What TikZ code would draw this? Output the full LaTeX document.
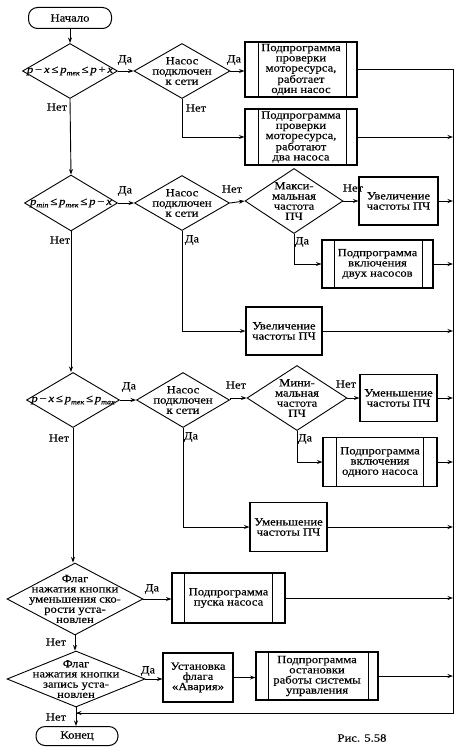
\documentclass[tikz,border=0pt]{standalone}
\usepackage{fontspec}
\setmainfont{Liberation Serif}[FakeStretch=1.15,FakeBold=0.3]
\usetikzlibrary{shapes.geometric,arrows.meta}
\newcommand{\fs}{\fontsize{11}{10.2}\selectfont}
\newcommand{\sbs}[1]{\raisebox{-0.45ex}{\fontsize{7}{7}\selectfont\itshape #1}}
\newcommand{\ptk}{\textit{p}\sbs{тек}}
\newcommand{\subln}[3]{%
  \draw[ln] ([xshift=#2pt]#1.north west) -- ([xshift=#2pt]#1.south west);
  \draw[ln] ([xshift=-#3pt]#1.north east) -- ([xshift=-#3pt]#1.south east);}
\tikzset{
  base/.style={font=\fs, align=center, inner sep=0pt},
  term/.style={base, draw, rounded corners=9pt, minimum width=83pt, minimum height=21pt, line width=1pt},
  dia/.style={draw, diamond, inner sep=0pt, line width=0.9pt},
  blk/.style={base, draw, rectangle, line width=1.1pt},
  lbl/.style={font=\fs, inner sep=0pt},
  ar/.style={-{Stealth[length=5.5pt,width=4pt]}, line width=0.9pt},
  ln/.style={line width=0.9pt}
}
\begin{document}
\begin{tikzpicture}[x=1pt,y=-1pt]
\useasboundingbox (0,0) rectangle (462,752);
% column 1
\node[term] (start) at (70,18) {Начало};
\node[dia, minimum width=95pt, minimum height=55pt] (d1) at (70,71) {};
\node[base] (d1t) at (d1) {\textit{p}\,−\,\textit{x}\,≤\,\ptk\,≤\,\textit{p}\,+\,\textit{x}};
\node[dia, minimum width=96pt, minimum height=55pt] (d2) at (182,71) {};
\node[base] (d2t) at (d2) {Насос\\подключен\\к сети};
\node[blk, minimum width=112pt, minimum height=55pt] (b1) at (301,69.5) {Подпрограмма\\проверки\\моторесурса,\\работает\\один насос};
\subln{b1}{14}{11}
\node[blk, minimum width=112pt, minimum height=56pt] (b2) at (301,137) {Подпрограмма\\проверки\\моторесурса,\\работают\\два насоса};
\subln{b2}{14}{11}

\node[dia, minimum width=93pt, minimum height=56pt] (d3) at (71,203) {};
\node[base] (d3t) at (d3) {\textit{p}\sbs{min}\,≤\,\ptk\,≤\,\textit{p}\,−\,\textit{x}};
\node[dia, minimum width=95pt, minimum height=55pt] (d4) at (182,203) {};
\node[base] (d4t) at (d4) {Насос\\подключен\\к сети};
\node[dia, minimum width=98pt, minimum height=65pt] (d5) at (294,201) {};
\node[base] (d5t) at (d5) {Макси-\\мальная\\частота\\ПЧ};
\node[blk, minimum width=79pt, minimum height=48pt] (b3) at (398.5,201) {Увеличение\\частоты ПЧ};
\node[blk, minimum width=111pt, minimum height=48pt] (b4) at (377.5,264) {Подпрограмма\\включения\\двух насосов};
\subln{b4}{13}{11}
\node[blk, minimum width=76pt, minimum height=48pt] (b5) at (284,331) {Увеличение\\частоты ПЧ};

\node[dia, minimum width=93pt, minimum height=55pt] (d6) at (73,400) {};
\node[base] (d6t) at (d6) {\textit{p}\,−\,\textit{x}\,≤\,\ptk\,≤\,\textit{p}\sbs{max}};
\node[dia, minimum width=93pt, minimum height=55pt] (d7) at (183,400) {};
\node[base] (d7t) at (d7) {Насос\\подключен\\к сети};
\node[dia, minimum width=100pt, minimum height=65pt] (d8) at (297,398) {};
\node[base] (d8t) at (d8) {Мини-\\мальная\\частота\\ПЧ};
\node[blk, minimum width=77pt, minimum height=47pt] (b6) at (398.5,398) {Уменьшение\\частоты ПЧ};
\node[blk, minimum width=114pt, minimum height=49pt] (b7) at (380,462) {Подпрограмма\\включения\\одного насоса};
\subln{b7}{14}{14}
\node[blk, minimum width=77pt, minimum height=49pt] (b8) at (288.5,527) {Уменьшение\\частоты ПЧ};

\node[dia, minimum width=136pt, minimum height=72pt] (d9) at (75,599) {};
\node[base] (d9t) at (d9) {Флаг\\нажатия кнопки\\уменьшения ско-\\рости уста-\\новлен};
\node[blk, minimum width=113pt, minimum height=50pt] (b9) at (228.5,598) {Подпрограмма\\пуска насоса};
\subln{b9}{13}{13}

\node[dia, minimum width=138pt, minimum height=56pt] (d10) at (76,679) {};
\node[base] (d10t) at (d10) {Флаг\\нажатия кнопки\\запись уста-\\новлен};
\node[blk, minimum width=70pt, minimum height=49pt] (b10) at (198,677.5) {Установка\\флага\\«Авария»};
\node[blk, minimum width=122pt, minimum height=48pt] (b11) at (317,676) {Подпрограмма\\остановки\\работы системы\\управления};
\subln{b11}{13}{10}

\node[term, minimum width=82pt, minimum height=19pt] (end) at (77,736) {Конец};
\node[lbl] (cap) at (362,738) {Рис. 5.58};

\coordinate (bx) at (453,0);
\coordinate (J) at (76,713);

% connectors
\draw[ar] (start) -- (d1);
\draw[ar] (d1.east) -- (d2.west);
\draw[ar] (d2.east) -- (d2.east -| b1.west);
\draw[ar] (d2.south) |- (b2.west);
\draw[ln] (b1.east) -- (b1.east -| bx) -- (bx |- J) -- (J);
\draw[ar] (bx |- J) -- (J);
\draw[ar] (b2.east) -- (b2.east -| bx);

\draw[ar] (d1.south) -- (d3.north);
\draw[ar] (d3.east) -- (d4.west);
\draw[ar] (d4.east) -- (d5.west);
\draw[ar] (d5.east) -- (d5.east -| b3.west);
\draw[ar] (d5.south) |- (b4.west);
\draw[ar] (d4.south) |- (b5.west);
\draw[ar] (b3.east) -- (b3.east -| bx);
\draw[ar] (b4.east) -- (b4.east -| bx);
\draw[ar] (b5.east) -- (b5.east -| bx);

\draw[ar] (d3.south) -- (d3.south |- d6.north);
\draw[ar] (d6.east) -- (d7.west);
\draw[ar] (d7.east) -- (d7.east |- d8.west) -- (d8.west);
\draw[ar] (d8.east) -- (d8.east -| b6.west);
\draw[ar] (d8.south) |- (b7.west);
\draw[ar] (d7.south) |- (b8.west);
\draw[ar] (b6.east) -- (b6.east -| bx);
\draw[ar] (b7.east) -- (b7.east -| bx);
\draw[ar] (b8.east) -- (b8.east -| bx);

\draw[ar] (d6.south) -- (d6.south |- d9.north);
\draw[ar] (d9.east) -- (d9.east -| b9.west);
\draw[ar] (b9.east) -- (b9.east -| bx);
\draw[ar] (d9.south) -- (d9.south |- d10.north);
\draw[ar] (d10.east) -- (d10.east -| b10.west);
\draw[ar] (b10.east) -- (b10.east -| b11.west);
\draw[ar] (b11.east) -- (b11.east -| bx);
\draw[ar] (d10.south) -- (d10.south |- end.north);

% labels
\node[lbl] (l1) at (125,60) {Да};
\node[lbl] (l2) at (234,60) {Да};
\node[lbl] (l3) at (57,107) {Нет};
\node[lbl] (l4) at (196,108) {Нет};
\node[lbl] (l5) at (125,191) {Да};
\node[lbl] (l6) at (60,240) {Нет};
\node[lbl] (l7) at (232,189) {Нет};
\node[lbl] (l8) at (192,240) {Да};
\node[lbl] (l9) at (353,188) {Нет};
\node[lbl] (l10) at (302,242) {Да};
\node[lbl] (l11) at (129,387) {Да};
\node[lbl] (l12) at (59,438) {Нет};
\node[lbl] (l13) at (236,385) {Нет};
\node[lbl] (l14) at (191,437) {Да};
\node[lbl] (l15) at (346,384) {Нет};
\node[lbl] (l16) at (305,439) {Да};
\node[lbl] (l17) at (152,589) {Да};
\node[lbl] (l18) at (56,642) {Нет};
\node[lbl] (l19) at (148,671) {Да};
\node[lbl] (l20) at (56,717) {Нет};
\end{tikzpicture}
\end{document}
